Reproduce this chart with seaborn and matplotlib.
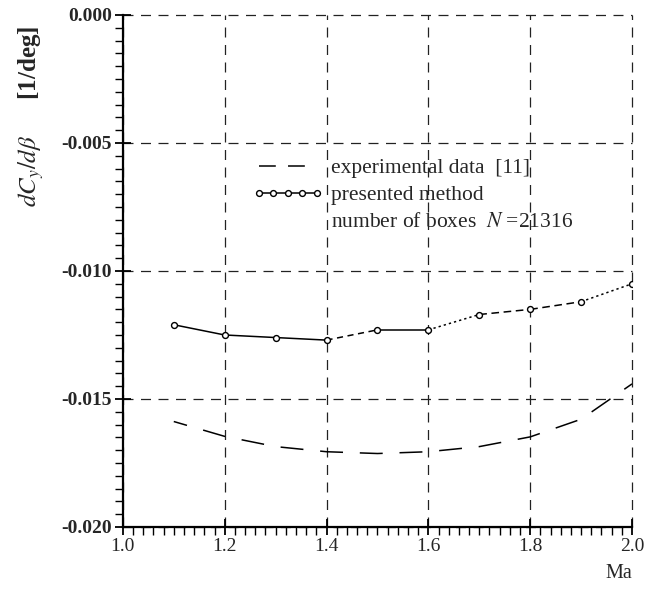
import numpy as np
import pandas as pd
import matplotlib
matplotlib.use("Agg")
import matplotlib.pyplot as plt
from matplotlib.lines import Line2D
from matplotlib.ticker import MultipleLocator, FormatStrFormatter
import seaborn as sns

# ---- data ----
mach = [1.1, 1.2, 1.3, 1.4, 1.5, 1.6, 1.7, 1.8, 1.9, 2.0]
presented = [-0.0121, -0.0125, -0.0126, -0.0127, -0.0123, -0.0123,
             -0.0117, -0.0115, -0.0112, -0.0105]
experimental = [-0.01588, -0.01646, -0.01686, -0.01706, -0.01713, -0.01706,
                -0.01686, -0.01648, -0.01579, -0.01441]
x_ticks = [1.0, 1.2, 1.4, 1.6, 1.8, 2.0]
y_ticks = [0.000, -0.005, -0.010, -0.015, -0.020]
labels = ["experimental data  [11]", "presented method", "number of boxes  $N$ =21316"]

segment_styles = ["-", "-", "-", (0, (4, 3)), "-", (0, (1.5, 2)),
                  (0, (5, 3)), (0, (5, 3)), (0, (1.5, 2))]

sns.set_theme(style="white")
plt.rcParams["font.family"] = ["Liberation Serif", "DejaVu Serif"]
plt.rcParams["mathtext.fontset"] = "stix"

df_p = pd.DataFrame({"Ma": mach, "val": presented})
df_e = pd.DataFrame({"Ma": mach, "val": experimental})

fig = plt.figure(figsize=(6.57, 5.94), dpi=100)
ax = fig.add_axes([0.187, 0.1128, 0.775, 0.862])

# experimental curve (dashed)
sns.lineplot(data=df_e, x="Ma", y="val", ax=ax, color="black", lw=1.1,
             linestyle=(6, (15, 11)), zorder=3)

# presented method, drawn segment by segment with varying line styles
for i, ls in enumerate(segment_styles):
    seg = df_p.iloc[i:i + 2]
    sns.lineplot(data=seg, x="Ma", y="val", ax=ax, color="black", lw=1.1,
                 linestyle=ls, zorder=3)
sns.scatterplot(data=df_p, x="Ma", y="val", ax=ax, marker="o", s=18,
                facecolor="white", edgecolor="black", linewidth=1.0, zorder=4)

ax.set_xlim(1.0, 2.0)
ax.set_ylim(-0.020, 0.000)
ax.set_xticks(x_ticks)
ax.set_yticks(y_ticks)
ax.xaxis.set_minor_locator(MultipleLocator(0.02))
ax.yaxis.set_minor_locator(MultipleLocator(0.0005))
ax.xaxis.set_major_formatter(FormatStrFormatter("%.1f"))
ax.yaxis.set_major_formatter(FormatStrFormatter("%.3f"))

ax.grid(True, which="major", color="#222222", linestyle=(0, (8, 6)), lw=0.9)
for gl in ax.get_xgridlines() + ax.get_ygridlines():
    gl.set_clip_on(False)
for s in ["top", "right"]:
    ax.spines[s].set_visible(False)
for s in ["left", "bottom"]:
    ax.spines[s].set_color("black")
    ax.spines[s].set_linewidth(1.6)

ax.tick_params(which="major", direction="inout", length=12, width=1.3,
               color="black", labelsize=14, pad=2, left=True, bottom=True)
ax.tick_params(which="minor", direction="out", length=6, width=1.0,
               color="black", left=True, bottom=True)
for lbl in ax.get_yticklabels():
    lbl.set_fontweight("bold")

ax.set_xlabel("")
ax.set_ylabel("")
fig.text(0.922, 0.018, "Ma", fontsize=14.5, ha="left", va="bottom")
fig.text(0.047, 0.805, r"$dC_y/d\beta$      [1/deg]", fontsize=18, rotation=90,
         ha="center", va="center", fontweight="bold")

handles = [
    Line2D([], [], color="black", lw=1.1, linestyle=(0, (11, 8))),
    Line2D([], [], color="black", lw=1.1, marker="o", markersize=4.2,
           markerfacecolor="white", markeredgecolor="black"),
    Line2D([], [], color="none"),
]
leg = ax.legend(handles, labels, loc="upper left", bbox_to_anchor=(0.237, 0.737),
                frameon=False, fontsize=15.5, numpoints=5, handlelength=3.3,
                handletextpad=0.35, labelspacing=0.32, borderaxespad=0)

fig.savefig("out.png", dpi=100)
